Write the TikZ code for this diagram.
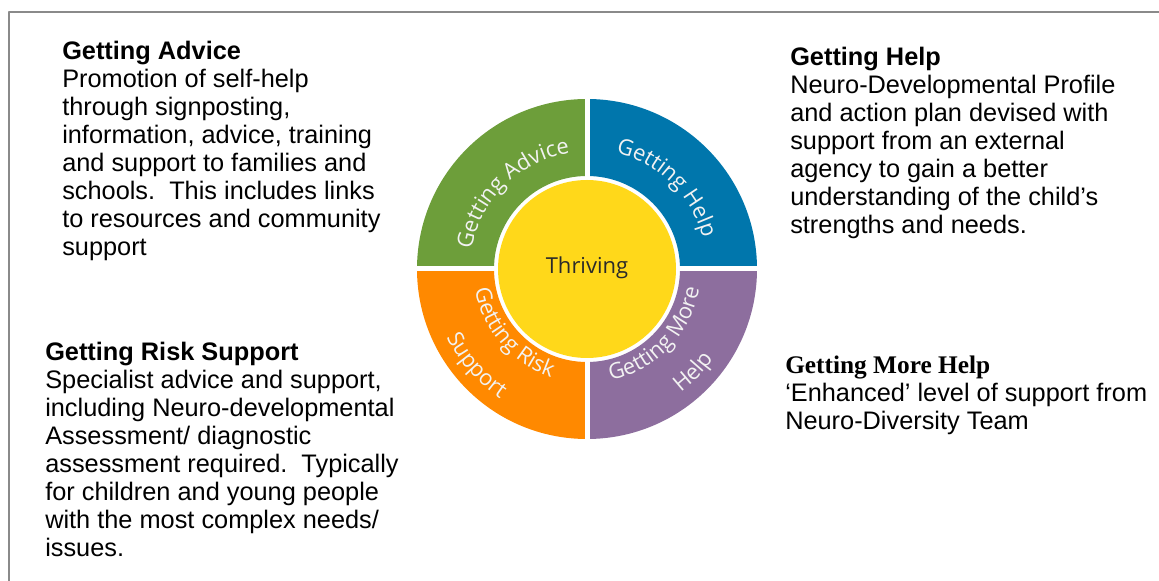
\documentclass[tikz,border=0pt]{standalone}
\usepackage{fontspec}
\setmainfont{Liberation Sans}
\newfontfamily\wheelfont{Open Sans}
\newfontfamily\timesfont{Liberation Serif}
\usetikzlibrary{decorations.text}
\definecolor{framegrey}{HTML}{8A8A8A}
\definecolor{advgreen}{HTML}{6D9E3A}
\definecolor{helpblue}{HTML}{0076AC}
\definecolor{morepurple}{HTML}{8D6E9E}
\definecolor{riskorange}{HTML}{FF8900}
\definecolor{thriveyellow}{HTML}{FFD81A}
\definecolor{ringwhite}{HTML}{F2F2F2}
\definecolor{thrivetext}{HTML}{2A2A2A}
\newcommand\ringfont{\wheelfont\fontsize{16.5}{16.5}\selectfont\color{ringwhite}}
\begin{document}
\begin{tikzpicture}[x=0.75pt,y=0.75pt,line join=round,
  blurb/.style={anchor=base west,align=left,inner sep=0pt,
    font=\fontsize{19}{21}\selectfont},
  gap/.style={white,line width=3.75pt,line cap=butt}]
  \useasboundingbox (0,0) rectangle (1159,581);
  \draw[line width=1.1pt,framegrey] (9,0) -- (9,569) -- (1159,569);
  % the wheel
  \begin{scope}[shift={(587,312)}]
    \fill[helpblue] (0:170) arc[start angle=0,end angle=90,radius=170]
      -- (90:93) arc[start angle=90,end angle=0,radius=93] -- cycle;
    \fill[advgreen] (90:170) arc[start angle=90,end angle=180,radius=170]
      -- (180:93) arc[start angle=180,end angle=90,radius=93] -- cycle;
    \fill[riskorange] (180:170) arc[start angle=180,end angle=270,radius=170]
      -- (270:93) arc[start angle=270,end angle=180,radius=93] -- cycle;
    \fill[morepurple] (270:170) arc[start angle=270,end angle=360,radius=170]
      -- (360:93) arc[start angle=360,end angle=270,radius=93] -- cycle;
    \draw[gap] (-172,0) -- (172,0);
    \draw[gap] (0,-172) -- (0,172);
    \fill[thriveyellow] (0,0) circle (89);
    \node[font=\wheelfont\fontsize{16.5}{16.5}\selectfont,text=thrivetext] (thrive) at (0,1) {Thriving};
    % curved labels
    \path[decorate,decoration={text along path,text align=center,
      text={|\ringfont|Getting Advice}}]
      (180:117) arc[start angle=180,end angle=89,radius=117];
    \path[decorate,decoration={text along path,text align=center,
      text={|\ringfont|Getting Help}}]
      (91:120) arc[start angle=91,end angle=0,radius=120];
    \path[decorate,decoration={text along path,text align=center,
      text={|\ringfont|Getting Risk}}]
      (176:114) arc[start angle=176,end angle=266,radius=114];
    \path[decorate,decoration={text along path,text align=center,
      text={|\ringfont|Support}}]
      (176:156) arc[start angle=176,end angle=266,radius=156];
    \path[decorate,decoration={text along path,text align=center,
      text={|\ringfont|Getting More}}]
      (271:114) arc[start angle=271,end angle=361,radius=114];
    \path[decorate,decoration={text along path,text align=center,
      text={|\ringfont|Help}}]
      (271:155) arc[start angle=271,end angle=361,radius=155];
  \end{scope}
  % the four descriptions
  \node[blurb] (advice) at (62,325) {\textbf{Getting Advice}\\
    Promotion of self-help\\through signposting,\\information, advice, training\\
    and support to families and\\schools.\ \ This includes links\\
    to resources and community\\support};
  \node[blurb] (help) at (790,347) {\textbf{Getting Help}\\
    Neuro-Developmental Profile\\and action plan devised with\\
    support from an external\\agency to gain a better\\
    understanding of the child’s\\strengths and needs.};
  \node[blurb] (risk) at (45,24) {\textbf{Getting Risk Support}\\
    Specialist advice and support,\\including Neuro-developmental\\
    Assessment/ diagnostic\\assessment required.\ \ Typically\\
    for children and young people\\with the most complex needs/\\issues.};
  \node[blurb] (morehelp) at (785,151) {{\timesfont\bfseries Getting More Help}\\
    ‘Enhanced’ level of support from\\Neuro-Diversity Team};
\end{tikzpicture}
\end{document}
